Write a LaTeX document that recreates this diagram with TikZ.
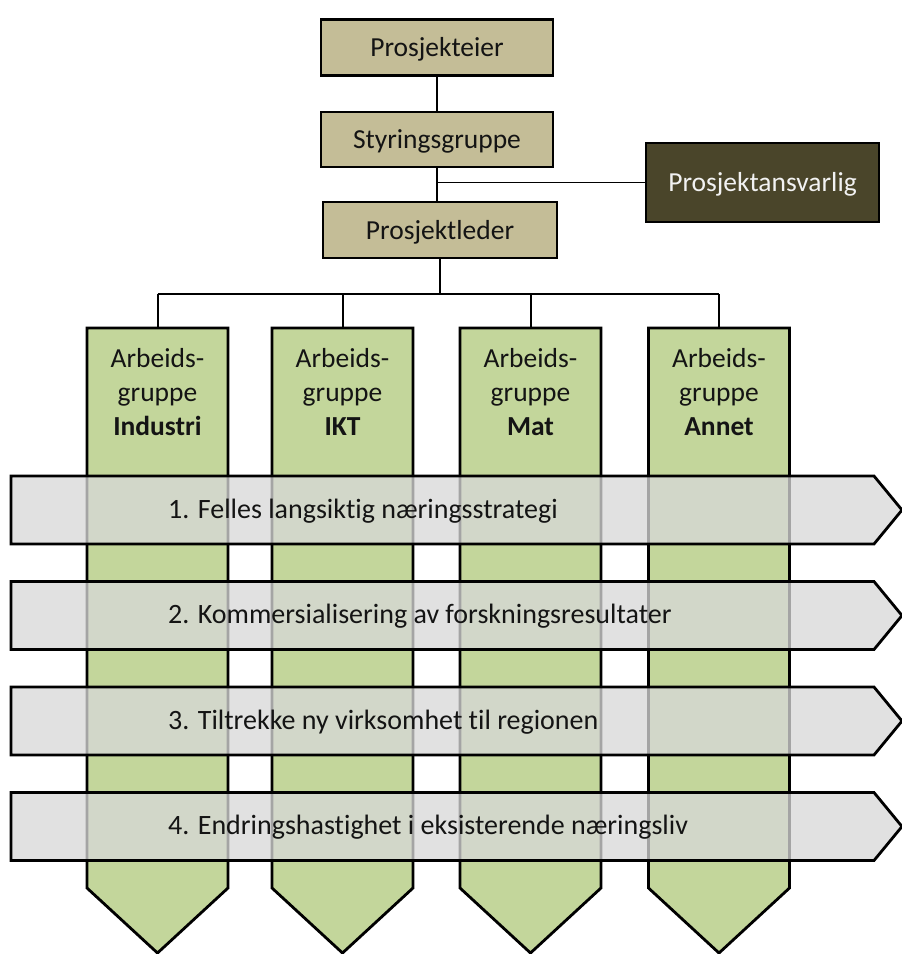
\documentclass[tikz,border=0pt]{standalone}
\usepackage{fontspec}
\setmainfont{Carlito}[RawFeature=-liga]
\definecolor{tanfill}{RGB}{196,189,151}
\definecolor{darkolive}{RGB}{74,69,42}
\definecolor{colgreen}{RGB}{195,214,155}
\definecolor{bandgray}{RGB}{216,216,216}
\definecolor{txt}{RGB}{20,20,20}
\begin{document}
\begin{tikzpicture}[x=1pt,y=-1pt,
  topbox/.style={draw=black, line width=2.8pt, fill=tanfill, minimum width=232pt, minimum height=56pt,
    inner sep=0pt, text=txt, font=\fontsize{27.5}{32}\selectfont, text height=18pt, text depth=0pt},
  darkbox/.style={topbox, fill=darkolive, text={rgb,255:red,242;green,242;blue,242}, minimum width=233pt, minimum height=79pt},
  conn/.style={draw=black, line width=2pt},
  thinconn/.style={draw=black, line width=1.3pt},
  colshape/.style={draw=black, line width=2.8pt, fill=colgreen, line join=miter},
  coltext/.style={align=center, inner sep=0pt, text=txt, font=\fontsize{27.5}{34}\selectfont},
  bandshape/.style={draw=black, line width=2.8pt, fill=bandgray, fill opacity=0.76, line join=miter},
  bandtext/.style={anchor=base west, inner sep=0pt, text=txt, font=\fontsize{28}{32}\selectfont}]
\useasboundingbox (0,0) rectangle (902,954);

% top hierarchy
\node[topbox] (E) at (437,47.5) {Prosjekteier};
\node[topbox, minimum height=55pt] (S) at (437,139.5) {Styringsgruppe};
\node[topbox, minimum width=234pt] (L) at (440,230) {Prosjektleder};
\node[darkbox] (A) at (762.5,182.5) {Prosjektansvarlig};

\draw[conn] (E.south) -- (S.north);
\draw[conn] (S.south) -- (S.south |- L.north);
\draw[thinconn] (A.west) -- (A.west -| S.south);

% bus
\coordinate (bus0) at (157.5,294);
\coordinate (bus1) at (719,294);
\draw[conn] (L.south) -- (L.south |- bus0);
\draw[conn] (bus0) -- (bus1);

% columns
\foreach \cx/\nm/\lab in {157.5/c1/Industri, 342.5/c2/IKT, 530.5/c3/Mat, 719/c4/Annet}{
  \coordinate (\nm) at (\cx,328);
  \draw[conn] (\nm) -- (\nm |- bus0);
  \path[colshape] (\cx-70.5,328) -- (\cx+70.5,328) -- (\cx+70.5,888) -- (\cx,953) -- (\cx-70.5,888) -- cycle;
  \node[coltext] (\nm t) at (\cx,392) {Arbeids-\\gruppe\\\textbf{\lab}};
}

% bands
\foreach \ty/\nm/\txt in {476/b1/{1. Felles langsiktig næringsstrategi},
                          581.5/b2/{2. Kommersialisering av forskningsresultater},
                          687/b3/{3. Tiltrekke ny virksomhet til regionen},
                          792.5/b4/{4. Endringshastighet i eksisterende næringsliv}}{
  \path[bandshape] (11,\ty) -- (874,\ty) -- (902,\ty+34) -- (874,\ty+68) -- (11,\ty+68) -- cycle;
  \node[bandtext] (\nm) at (168,\ty+42) {\txt};
}
\end{tikzpicture}
\end{document}
